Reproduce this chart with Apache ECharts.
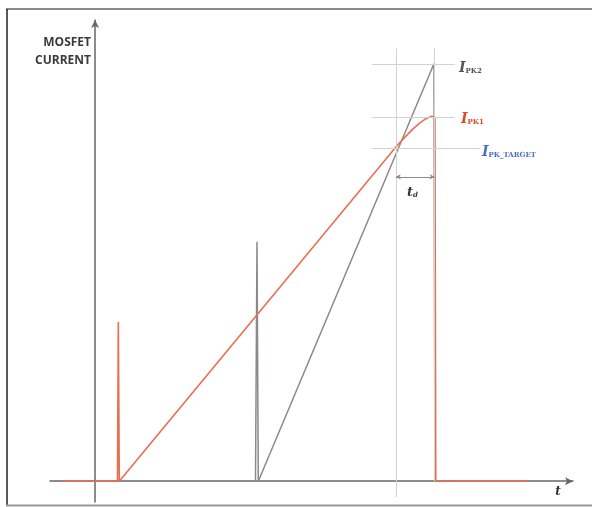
<!DOCTYPE html>
<html>
<head>
<meta charset="utf-8">
<script src="https://cdn.jsdelivr.net/npm/echarts@6/dist/echarts.min.js"></script>
<style>html,body{margin:0;padding:0;background:#fff}#c{width:592px;height:507px}</style>
</head>
<body>
<div id="c"></div>
<script>
// Orange waveform (I_PK1): time and current
const orangeT = [-7.3, 4.97, 5.15, 5.37, 5.75, 67.18, 68.73, 70.51, 72.06, 73.39, 74.5, 75.16, 75.38, 75.56, 96.0];
const orangeI = [0, 0, 34.5, 0, 0, 73.0, 74.6, 76.4, 77.7, 78.6, 79.1, 79.0, 78.5, 0, 0];
// Gray waveform (I_PK2)
const grayT = [24.8, 35.58, 35.91, 36.2, 36.46, 75.16, 75.38];
const grayI = [0, 0, 51.9, 0, 0, 90.5, 0];
// Reference levels
const levelNames = ['I_PK2', 'I_PK1', 'I_PK_TARGET'];
const levelValues = [90.4, 79.0, 72.1];
const levelStart = [61.4, 61.4, 61.4];
const levelEnd = [79.8, 79.8, 85.4];
// Reference times (start of delay, end of delay)
const markTimes = [66.7, 75.3];
const markTimeBottom = [-3.4, 0];
const markTimeTop = 93.9;
const tdLevel = 66.0;

const zip = (a, b) => a.map((v, i) => [v, b[i]]);

const chart = echarts.init(document.getElementById('c'), null, {renderer: 'canvas'});

const refLines = [];
levelValues.forEach((v, i) => {
  refLines.push([{coord: [levelStart[i], v]}, {coord: [levelEnd[i], v]}]);
});
markTimes.forEach((t, i) => {
  refLines.push([{coord: [t, markTimeBottom[i]]}, {coord: [t, markTimeTop]}]);
});

const option = {
  animation: false,
  backgroundColor: '#ffffff',
  grid: {left: 50, right: 19, top: 20, bottom: 5, containLabel: false},
  xAxis: {
    type: 'value', min: -10, max: 106,
    axisLine: {show: true, onZero: true, symbol: ['none', 'arrow'], symbolSize: [6, 8],
      lineStyle: {color: '#666', width: 1.5}},
    axisTick: {show: false}, axisLabel: {show: false}, splitLine: {show: false}
  },
  yAxis: {
    type: 'value', min: -4.5, max: 100,
    axisLine: {show: true, onZero: true, symbol: ['none', 'arrow'], symbolSize: [6, 8],
      lineStyle: {color: '#666', width: 1.5}},
    axisTick: {show: false}, axisLabel: {show: false}, splitLine: {show: false}
  },
  series: [
    {
      type: 'line', name: 'ref', data: [], silent: true,
      markLine: {
        silent: true, symbol: ['none', 'none'], animation: false,
        label: {show: false},
        lineStyle: {color: '#d2d2d2', width: 1, type: 'solid'},
        data: refLines
      }
    },
    {
      type: 'line', name: 'td', data: [], silent: true,
      markLine: {
        silent: true, symbol: ['arrow', 'arrow'], symbolSize: [4, 5], animation: false,
        label: {show: false},
        lineStyle: {color: '#8a8a8a', width: 1, type: 'solid'},
        data: [[{coord: [markTimes[0], tdLevel]}, {coord: [markTimes[1], tdLevel]}]]
      }
    },
    {
      type: 'line', name: 'I_PK2', data: zip(grayT, grayI), showSymbol: false, symbol: 'none',
      lineStyle: {color: '#8e8888', width: 1.5}, z: 3
    },
    {
      type: 'line', name: 'I_PK1', data: zip(orangeT, orangeI), showSymbol: false, symbol: 'none',
      lineStyle: {color: '#e8704f', width: 1.6}, z: 4
    }
  ],
  graphic: [
    {type: 'line', shape: {x1: 6, y1: 9, x2: 592, y2: 9}, style: {stroke: '#8a8a8a', lineWidth: 2}},
    {type: 'line', shape: {x1: 7, y1: 9, x2: 7, y2: 506}, style: {stroke: '#222', lineWidth: 1.5}},
    {type: 'line', shape: {x1: 6, y1: 505.5, x2: 592, y2: 505.5}, style: {stroke: '#9a9a9a', lineWidth: 2}},
    {type: 'text', x: 91, y: 43, style: {text: 'MOSFET', fill: '#3a3a3a', font: 'bold 12px "Open Sans"', textAlign: 'right', textVerticalAlign: 'middle'}},
    {type: 'text', x: 91, y: 61, style: {text: 'CURRENT', fill: '#3a3a3a', font: 'bold 12px "Open Sans"', textAlign: 'right', textVerticalAlign: 'middle'}},
    {type: 'text', x: 459, y: 59, style: {text: '{i|I}{s|PK2}', fill: '#555',
      rich: {i: {fontSize: 14, fontStyle: 'italic', fontWeight: 'bold', fontFamily: 'DejaVu Serif', fill: '#555', lineHeight: 16, verticalAlign: 'bottom'},
             s: {fontSize: 7, fontWeight: 'bold', fontFamily: 'DejaVu Serif', fill: '#555', lineHeight: 16, verticalAlign: 'bottom'}}}},
    {type: 'text', x: 461, y: 110, style: {text: '{i|I}{s|PK1}',
      rich: {i: {fontSize: 14, fontStyle: 'italic', fontWeight: 'bold', fontFamily: 'DejaVu Serif', fill: '#e2492c', lineHeight: 16, verticalAlign: 'bottom'},
             s: {fontSize: 7, fontWeight: 'bold', fontFamily: 'DejaVu Serif', fill: '#e2492c', lineHeight: 16, verticalAlign: 'bottom'}}}},
    {type: 'text', x: 482, y: 143, style: {text: '{i|I}{s|PK_TARGET}',
      rich: {i: {fontSize: 14, fontStyle: 'italic', fontWeight: 'bold', fontFamily: 'DejaVu Serif', fill: '#4a6fc4', lineHeight: 16, verticalAlign: 'bottom'},
             s: {fontSize: 7, fontWeight: 'bold', fontFamily: 'DejaVu Serif', fill: '#4a6fc4', lineHeight: 16, verticalAlign: 'bottom'}}}},
    {type: 'text', x: 407, y: 184, style: {text: '{i|t}{s|d}',
      rich: {i: {fontSize: 13, fontStyle: 'italic', fontWeight: 'bold', fontFamily: 'DejaVu Serif', fill: '#333', lineHeight: 15, verticalAlign: 'bottom'},
             s: {fontSize: 7, fontStyle: 'italic', fontWeight: 'bold', fontFamily: 'DejaVu Serif', fill: '#333', lineHeight: 15, verticalAlign: 'bottom'}}}},
    {type: 'text', x: 558, y: 492, style: {text: 't', fill: '#333', font: 'italic bold 12px "DejaVu Serif"', textAlign: 'center', textVerticalAlign: 'middle'}}
  ]
};
chart.setOption(option);
</script>
</body>
</html>
